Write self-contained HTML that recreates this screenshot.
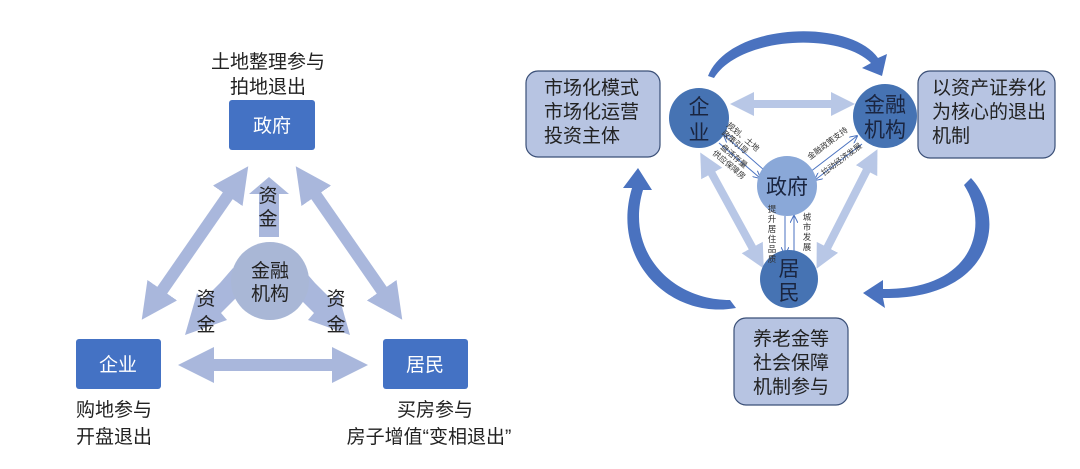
<!DOCTYPE html>
<html><head><meta charset="utf-8"><style>
body{margin:0;background:#fff;}
svg{display:block;font-family:"Liberation Sans","Noto Sans CJK SC",sans-serif;}
</style></head><body>
<svg width="1080" height="469" viewBox="0 0 1080 469">
<defs>
<marker id="ah" markerWidth="3" markerHeight="3" refX="1.5" refY="1.5" orient="auto-start-reverse" markerUnits="strokeWidth"><path d="M0,0 L3,1.5 L0,3z" fill="#a9b7dc"/></marker>
<marker id="ah2" markerWidth="3" markerHeight="3" refX="1.5" refY="1.5" orient="auto-start-reverse" markerUnits="strokeWidth"><path d="M0,0 L3,1.5 L0,3z" fill="#b8c7e6"/></marker>
<marker id="th" markerWidth="8" markerHeight="8" refX="7" refY="4" orient="auto-start-reverse" markerUnits="userSpaceOnUse"><path d="M0,0 L8,4 L0,8" fill="none" stroke="#4a72c0" stroke-width="1"/></marker>
</defs>
<!-- LEFT -->
<g fill="#222" font-size="19">
<text x="268" y="68" text-anchor="middle">土地整理参与</text>
<text x="268" y="93" text-anchor="middle">拍地退出</text>
<text x="76" y="416">购地参与</text>
<text x="76" y="443">开盘退出</text>
<text x="435" y="416" text-anchor="middle">买房参与</text>
<text x="429" y="443" text-anchor="middle">房子增值“变相退出”</text>
</g>
<g stroke="#a9b7dc" stroke-width="12" fill="none">
<line x1="152" y1="305" x2="238" y2="181" marker-start="url(#ah)" marker-end="url(#ah)"/>
<line x1="306" y1="181" x2="392" y2="305" marker-start="url(#ah)" marker-end="url(#ah)"/>
<line x1="196" y1="365" x2="350" y2="365" marker-start="url(#ah)" marker-end="url(#ah)"/>
</g>
<g fill="#a9b7dc">
<polygon points="259,237 279,237 279,194 289,194 269,177 249,194 259,194"/>
<polygon points="233,268 220,283 203,300 197,293 185,335 227,320 221,313 238,296 251,281"/>
<polygon points="302,268 315,283 332,300 338,293 350,335 308,320 314,313 297,296 284,281"/>
</g>
<circle cx="270" cy="281" r="39" fill="#a9b7d6"/>
<g fill="#222" font-size="19" text-anchor="middle">
<text x="270" y="277">金融</text><text x="270" y="300">机构</text>
<text x="268" y="202">资</text><text x="268" y="225">金</text>
<text x="206" y="305">资</text><text x="206" y="331">金</text>
<text x="336" y="305">资</text><text x="336" y="331">金</text>
</g>
<g fill="#4472c4">
<rect x="229" y="100" width="86" height="50" rx="3"/>
<rect x="76" y="339" width="85" height="50" rx="3"/>
<rect x="383" y="339" width="85" height="50" rx="3"/>
</g>
<g fill="#fff" font-size="19" text-anchor="middle">
<text x="272" y="132">政府</text><text x="118" y="371">企业</text><text x="425" y="371">居民</text>
</g>
<!-- RIGHT -->
<g fill="#4a72bf">
<path d="M708,76 C730,22 850,18 878,58 L887,54 L882,76 L862,68 L871,63 C840,32 740,36 714,78Z"/>
<path d="M971,178 C1010,220 990,300 883,298 L885,308 L863,293 L883,280 L883,289 C975,290 990,225 964,185Z"/>
<path d="M736,308 C670,320 610,260 632,188 L623,188 L638,168 L652,190 L643,190 C625,250 670,300 730,300Z"/>
</g>
<g fill="#b7c4e2" stroke="#3a4f77" stroke-width="1.2">
<rect x="526" y="71" width="134" height="86" rx="12"/>
<rect x="918" y="71" width="137" height="87" rx="12"/>
<rect x="734" y="318" width="114" height="87" rx="12"/>
</g>
<g fill="#222" font-size="19">
<text x="544" y="94">市场化模式</text><text x="544" y="118">市场化运营</text><text x="544" y="142">投资主体</text>
<text x="932" y="94">以资产证券化</text><text x="932" y="118">为核心的退出</text><text x="932" y="142">机制</text>
<text x="791" y="345" text-anchor="middle">养老金等</text><text x="791" y="369" text-anchor="middle">社会保障</text><text x="791" y="393" text-anchor="middle">机制参与</text>
</g>
<g stroke="#b8c7e6" stroke-width="8" fill="none">
<line x1="742" y1="104" x2="843" y2="104" marker-start="url(#ah2)" marker-end="url(#ah2)"/>
<line x1="706" y1="163" x2="758" y2="258" marker-start="url(#ah2)" marker-end="url(#ah2)"/>
<line x1="872" y1="160" x2="822" y2="258" marker-start="url(#ah2)" marker-end="url(#ah2)"/>
</g>
<g stroke="#4a72c0" stroke-width="1" fill="none">
<line x1="724" y1="135" x2="764" y2="170" marker-start="url(#th)"/>
<line x1="719" y1="143" x2="760" y2="178" marker-end="url(#th)"/>
<line x1="810" y1="172" x2="857" y2="136" marker-end="url(#th)"/>
<line x1="815" y1="180" x2="862" y2="144" marker-start="url(#th)"/>
<line x1="785" y1="216" x2="785" y2="254" marker-end="url(#th)"/>
<line x1="794" y1="216" x2="794" y2="254" marker-start="url(#th)"/>
</g>
<circle cx="699" cy="118" r="30" fill="#4673b3"/>
<circle cx="885" cy="116" r="32" fill="#4673b3"/>
<circle cx="787" cy="186" r="30" fill="#8aa8d8"/>
<circle cx="789" cy="279" r="29" fill="#4673b3"/>
<g fill="#1a2540" font-size="21" text-anchor="middle">
<text x="699" y="114">企</text><text x="699" y="140">业</text>
<text x="885" y="112">金融</text><text x="885" y="137">机构</text>
<text x="787" y="194">政府</text>
<text x="789" y="276">居</text><text x="789" y="300">民</text>
</g>
<g fill="#333" font-size="8">
<text transform="translate(726,126) rotate(40)">规划、土地</text>
<text transform="translate(721,134) rotate(40)">政策引导</text>
<text transform="translate(720,148) rotate(40)">盘活存量</text>
<text transform="translate(712,154) rotate(40)">供应保障房</text>
<text transform="translate(810,160) rotate(-37)">金融政策支持</text>
<text transform="translate(824,176) rotate(-37)">拉动经济发展</text>
</g>
<g fill="#333" font-size="8.5" text-anchor="middle">
<text x="772" y="212">提</text><text x="772" y="222">升</text><text x="772" y="232">居</text><text x="772" y="242">住</text><text x="772" y="252">品</text><text x="772" y="262">质</text>
<text x="807" y="220">城</text><text x="807" y="230">市</text><text x="807" y="240">发</text><text x="807" y="250">展</text>
</g>
</svg>
</body></html>
